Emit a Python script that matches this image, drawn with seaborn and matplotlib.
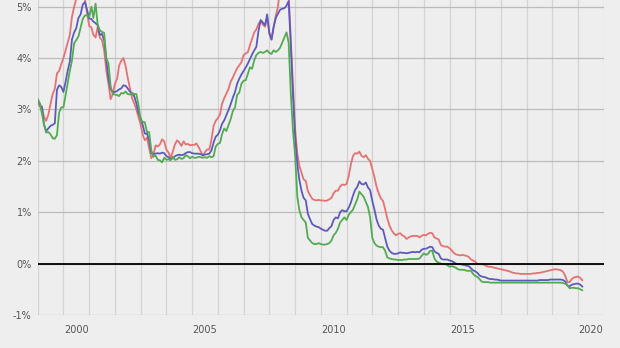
import matplotlib
matplotlib.use("Agg")
import matplotlib.pyplot as plt
import matplotlib.dates as mdates
from matplotlib import font_manager
import seaborn as sns
import pandas as pd

# ---------------- data (monthly, Jan 1999 - Mar 2020), percent ----------------
start_month = "1999-01-01"
series_names = ["red", "blue", "green"]
x_labels = ["2000", "2005", "2010", "2015", "2020"]
y_ticks = [-1, 0, 1, 2, 3, 4, 5]

red = [
    3.15, 3.05, 3.05, 2.85, 2.78, 2.90, 3.10, 3.30, 3.40, 3.70, 3.75, 3.88,
    4.00, 4.15, 4.30, 4.45, 4.80, 5.00, 5.15, 5.25, 5.22, 5.20, 5.15, 4.88,
    4.62, 4.60, 4.45, 4.40, 4.60, 4.40, 4.35, 4.15, 3.75, 3.50, 3.20, 3.30,
    3.50, 3.60, 3.85, 3.95, 4.00, 3.85, 3.62, 3.42, 3.22, 3.12, 3.00, 2.85,
    2.70, 2.50, 2.40, 2.45, 2.25, 2.05, 2.12, 2.30, 2.28, 2.32, 2.42, 2.38,
    2.22, 2.16, 2.06, 2.18, 2.32, 2.40, 2.36, 2.29, 2.38, 2.32, 2.33, 2.30,
    2.31, 2.31, 2.34, 2.27, 2.19, 2.10, 2.17, 2.22, 2.22, 2.41, 2.68, 2.78,
    2.83, 2.91, 3.11, 3.22, 3.31, 3.40, 3.54, 3.62, 3.72, 3.80, 3.86, 3.92,
    4.06, 4.09, 4.11, 4.25, 4.37, 4.50, 4.56, 4.67, 4.73, 4.65, 4.61, 4.79,
    4.50, 4.36, 4.59, 4.82, 4.99, 5.36, 5.39, 5.32, 5.38, 5.25, 4.35, 3.45,
    2.62, 2.14, 1.91, 1.77, 1.64, 1.61, 1.41, 1.33, 1.26, 1.24, 1.23, 1.24,
    1.23, 1.23, 1.22, 1.23, 1.25, 1.28, 1.37, 1.42, 1.42, 1.50, 1.54, 1.53,
    1.55, 1.71, 1.92, 2.09, 2.15, 2.14, 2.18, 2.10, 2.07, 2.11, 2.04, 2.00,
    1.84, 1.68, 1.50, 1.37, 1.27, 1.22, 1.06, 0.88, 0.74, 0.65, 0.59, 0.55,
    0.58, 0.59, 0.55, 0.53, 0.48, 0.51, 0.53, 0.54, 0.54, 0.54, 0.51, 0.54,
    0.56, 0.55, 0.58, 0.60, 0.59, 0.51, 0.49, 0.47, 0.36, 0.34, 0.33, 0.33,
    0.30, 0.26, 0.21, 0.18, 0.17, 0.16, 0.17, 0.16, 0.15, 0.13, 0.08, 0.06,
    0.04, -0.01, -0.01, -0.01, -0.02, -0.04, -0.06, -0.06, -0.07, -0.08, -0.09, -0.10,
    -0.11, -0.12, -0.13, -0.14, -0.15, -0.17, -0.18, -0.19, -0.19, -0.20, -0.20, -0.20,
    -0.20, -0.20, -0.20, -0.19, -0.19, -0.18, -0.18, -0.17, -0.16, -0.15, -0.14, -0.13,
    -0.12, -0.11, -0.11, -0.12, -0.13, -0.16, -0.24, -0.36, -0.36, -0.30, -0.27, -0.26,
    -0.25, -0.28, -0.33,
]

blue = [
    3.20, 3.09, 3.05, 2.70, 2.58, 2.63, 2.68, 2.70, 2.73, 3.38, 3.47, 3.44,
    3.34, 3.54, 3.75, 3.93, 4.36, 4.50, 4.58, 4.78, 4.85, 5.04, 5.09, 4.94,
    4.77, 4.76, 4.71, 4.68, 4.64, 4.45, 4.47, 4.35, 3.98, 3.60, 3.39, 3.34,
    3.34, 3.36, 3.39, 3.41, 3.47, 3.46, 3.41, 3.35, 3.31, 3.26, 3.12, 2.94,
    2.83, 2.69, 2.53, 2.53, 2.40, 2.15, 2.13, 2.14, 2.15, 2.14, 2.16, 2.15,
    2.09, 2.07, 2.03, 2.05, 2.09, 2.11, 2.12, 2.11, 2.12, 2.15, 2.17, 2.17,
    2.15, 2.14, 2.14, 2.14, 2.13, 2.11, 2.12, 2.13, 2.14, 2.20, 2.36, 2.47,
    2.51, 2.60, 2.72, 2.79, 2.89, 2.99, 3.10, 3.23, 3.34, 3.50, 3.60, 3.68,
    3.75, 3.82, 3.89, 3.98, 4.07, 4.15, 4.22, 4.54, 4.74, 4.69, 4.64, 4.85,
    4.48, 4.36, 4.60, 4.78, 4.86, 4.94, 4.96, 4.97, 5.02, 5.11, 4.24, 3.29,
    2.46, 1.94, 1.64, 1.42, 1.28, 1.23, 0.97, 0.86, 0.77, 0.74, 0.72, 0.71,
    0.68, 0.66, 0.64, 0.64, 0.69, 0.73, 0.85, 0.90, 0.88, 1.00, 1.04, 1.02,
    1.02, 1.09, 1.18, 1.32, 1.43, 1.49, 1.60, 1.55, 1.54, 1.58, 1.48, 1.43,
    1.22, 1.05, 0.86, 0.74, 0.68, 0.66, 0.50, 0.33, 0.25, 0.21, 0.19, 0.19,
    0.20, 0.22, 0.21, 0.21, 0.20, 0.21, 0.22, 0.23, 0.22, 0.23, 0.22, 0.27,
    0.29, 0.29, 0.31, 0.33, 0.32, 0.24, 0.21, 0.19, 0.10, 0.08, 0.08, 0.08,
    0.06, 0.05, 0.03, 0.00, -0.01, -0.01, -0.02, -0.03, -0.04, -0.05, -0.09, -0.13,
    -0.15, -0.18, -0.23, -0.25, -0.26, -0.27, -0.29, -0.30, -0.30, -0.31, -0.31, -0.32,
    -0.33, -0.33, -0.33, -0.33, -0.33, -0.33, -0.33, -0.33, -0.33, -0.33, -0.33, -0.33,
    -0.33, -0.33, -0.33, -0.33, -0.33, -0.33, -0.32, -0.32, -0.32, -0.32, -0.32, -0.31,
    -0.31, -0.31, -0.31, -0.31, -0.31, -0.32, -0.35, -0.43, -0.44, -0.41, -0.40, -0.39,
    -0.39, -0.41, -0.45,
]

green = [
    3.20, 3.12, 2.93, 2.71, 2.55, 2.56, 2.52, 2.44, 2.43, 2.50, 2.94, 3.04,
    3.04, 3.28, 3.51, 3.75, 3.95, 4.29, 4.35, 4.42, 4.59, 4.76, 4.83, 4.83,
    4.80, 5.00, 4.78, 5.06, 4.65, 4.54, 4.51, 4.49, 3.99, 3.90, 3.45, 3.30,
    3.29, 3.28, 3.26, 3.32, 3.31, 3.35, 3.30, 3.29, 3.32, 3.30, 3.30, 3.09,
    2.79, 2.76, 2.75, 2.56, 2.56, 2.21, 2.08, 2.10, 2.02, 2.01, 1.97, 2.06,
    2.02, 2.03, 2.01, 2.08, 2.02, 2.03, 2.07, 2.04, 2.05, 2.11, 2.09, 2.05,
    2.08, 2.06, 2.06, 2.08, 2.07, 2.06, 2.07, 2.06, 2.09, 2.07, 2.09, 2.28,
    2.33, 2.35, 2.52, 2.63, 2.58, 2.70, 2.81, 2.97, 3.04, 3.28, 3.33, 3.50,
    3.56, 3.57, 3.69, 3.82, 3.79, 3.96, 4.06, 4.10, 4.12, 4.10, 4.12, 4.15,
    4.10, 4.08, 4.15, 4.12, 4.15, 4.20, 4.30, 4.40, 4.50, 4.30, 3.30, 2.60,
    2.10, 1.30, 1.05, 0.90, 0.85, 0.80, 0.50, 0.45, 0.40, 0.38, 0.38, 0.40,
    0.38, 0.37, 0.37, 0.38, 0.40, 0.45, 0.55, 0.60, 0.68, 0.80, 0.85, 0.90,
    0.85, 0.95, 1.00, 1.05, 1.15, 1.25, 1.40, 1.35, 1.30, 1.20, 1.10, 0.90,
    0.50, 0.40, 0.35, 0.33, 0.32, 0.32, 0.25, 0.12, 0.10, 0.09, 0.08, 0.08,
    0.07, 0.07, 0.07, 0.08, 0.08, 0.09, 0.09, 0.09, 0.09, 0.09, 0.10, 0.15,
    0.20, 0.17, 0.19, 0.25, 0.25, 0.10, 0.04, 0.02, 0.00, -0.01, -0.01, -0.03,
    -0.06, -0.05, -0.06, -0.08, -0.11, -0.12, -0.12, -0.12, -0.14, -0.14, -0.14, -0.20,
    -0.24, -0.26, -0.30, -0.35, -0.36, -0.36, -0.36, -0.37, -0.37, -0.37, -0.37, -0.37,
    -0.37, -0.37, -0.37, -0.37, -0.37, -0.37, -0.37, -0.37, -0.37, -0.37, -0.37, -0.37,
    -0.37, -0.37, -0.37, -0.37, -0.37, -0.37, -0.37, -0.37, -0.37, -0.37, -0.37, -0.37,
    -0.37, -0.37, -0.37, -0.37, -0.37, -0.38, -0.39, -0.42, -0.48, -0.47, -0.47, -0.48,
    -0.48, -0.50, -0.52,
]

# ---------------- styling ----------------
BG = "#eeeeee"
HGRID = "#bcbcbc"
VGRID = "#d3d3d3"
TEXT = "#555555"
palette = {"red": "#e87171", "blue": "#5b5bbd", "green": "#52ab52"}

sns.set_theme(style="white")
names = {f.name for f in font_manager.fontManager.ttflist}
if "Liberation Sans Narrow" in names:
    fam, fs = ["Liberation Sans Narrow", "DejaVu Sans"], 8.8
else:
    fam, fs = ["DejaVu Sans"], 7.0
plt.rcParams["font.family"] = fam

frames = []
for name, vals in zip(series_names, [red, blue, green]):
    frames.append(pd.DataFrame({
        "date": pd.date_range(start_month, periods=len(vals), freq="MS"),
        "value": vals,
        "series": name,
    }))
df = pd.concat(frames, ignore_index=True)

fig = plt.figure(figsize=(6.2, 3.48), dpi=100)
fig.patch.set_facecolor(BG)
ax = fig.add_axes([0.0608, 0.0948, 0.9134, 0.9052])
ax.set_facecolor(BG)

sns.lineplot(data=df, x="date", y="value", hue="series", palette=palette,
             hue_order=series_names, linewidth=1.3, legend=False, ax=ax)

ax.axhline(0, color="black", lw=1.3, zorder=3)

ax.set_xlim(pd.Timestamp("1999-01-01"), pd.Timestamp("2021-01-01"))
ax.set_ylim(-1, 5.13)

# x: year boundaries as minor gridlines, labels at mid-year
ax.xaxis.set_minor_locator(mdates.YearLocator(1))
label_pos = [pd.Timestamp(f"{y}-07-01") for y in x_labels]
ax.set_xticks(label_pos)
ax.set_xticklabels(x_labels)
ax.tick_params(axis="x", which="major", length=0, pad=7.5, labelsize=fs, labelcolor=TEXT)
ax.tick_params(axis="x", which="minor", length=3.6, width=0.8, color=VGRID)
ax.grid(True, axis="x", which="minor", color=VGRID, lw=0.9)
ax.grid(False, axis="x", which="major")

ax.set_yticks(y_ticks)
ax.set_yticklabels([f"{v}%" for v in y_ticks])
ax.tick_params(axis="y", length=0, pad=4.3, labelsize=fs, labelcolor=TEXT)
ax.grid(True, axis="y", color=HGRID, lw=0.9)
ax.set_axisbelow(True)

ax.set_xlabel("")
ax.set_ylabel("")
for s in ax.spines.values():
    s.set_visible(False)

fig.savefig("out.png", dpi=100, facecolor=BG)
